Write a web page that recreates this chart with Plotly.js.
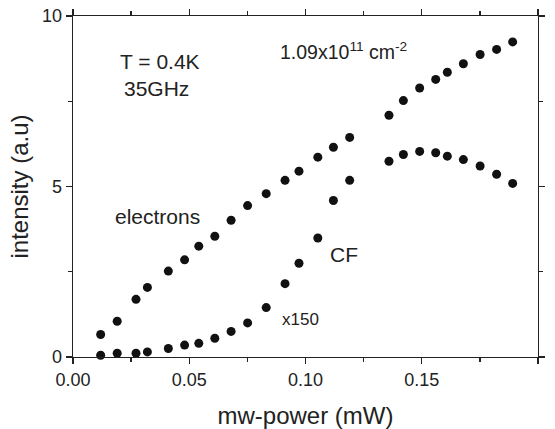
<!DOCTYPE html>
<html>
<head>
<meta charset="utf-8">
<script src="https://cdn.plot.ly/plotly-3.0.1.min.js"></script>
<style>
html,body{margin:0;padding:0;background:#fff;}
#chart{width:555px;height:429px;}
</style>
</head>
<body>
<div id="chart"></div>
<script>
// mw-power (mW)
var power = [0.0119, 0.0190, 0.0271, 0.0320, 0.0410, 0.0480, 0.0541, 0.0610, 0.0680, 0.0751,
             0.0831, 0.0912, 0.0972, 0.1053, 0.1120, 0.1190, 0.1359, 0.1421, 0.1491, 0.1560,
             0.1610, 0.1679, 0.1751, 0.1822, 0.1891];
// electrons intensity (a.u)
var electrons = [0.66, 1.05, 1.69, 2.04, 2.52, 2.85, 3.25, 3.54, 4.01, 4.44,
                 4.79, 5.18, 5.45, 5.86, 6.15, 6.44, 7.09, 7.52, 7.89, 8.14,
                 8.35, 8.60, 8.87, 9.02, 9.24];
// CF intensity (x150)
var cf = [0.05, 0.11, 0.11, 0.15, 0.25, 0.35, 0.40, 0.55, 0.75, 1.00,
          1.45, 2.15, 2.75, 3.49, 4.59, 5.18, 5.74, 5.94, 6.03, 5.99,
          5.89, 5.79, 5.60, 5.36, 5.09];

var xTickVals = [0, 0.05, 0.10, 0.15, 0.20];
var xTickText = ['0.00', '0.05', '0.10', '0.15', '0.20'];
var yTickVals = [0, 5, 10];
var yTickText = ['0', '5', '10'];

var FONT = 'Liberation Sans, Arial, Helvetica, sans-serif';
var INK = '#222';

var traces = [
  {x: power, y: electrons, mode: 'markers', type: 'scatter', name: 'electrons',
   marker: {color: '#111', size: 9}, cliponaxis: false},
  {x: power, y: cf, mode: 'markers', type: 'scatter', name: 'CF',
   marker: {color: '#111', size: 9}, cliponaxis: false}
];

var axisCommon = {
  showgrid: false, zeroline: false, showline: true, linecolor: INK, linewidth: 1.3,
  mirror: 'allticks', ticks: 'outside', ticklen: 6, tickwidth: 1.3, tickcolor: INK,
  tickfont: {family: FONT, size: 18, color: INK}
};

var layout = {
  width: 555, height: 429,
  margin: {l: 73, r: 17, t: 16, b: 72},
  paper_bgcolor: '#fff', plot_bgcolor: '#fff',
  showlegend: false,
  font: {family: FONT, color: INK},
  xaxis: Object.assign({}, axisCommon, {
    range: [0, 0.2], tickmode: 'array', tickvals: xTickVals, ticktext: xTickText,
    minor: {dtick: 0.025, ticks: 'outside', ticklen: 4, tickwidth: 1.3, tickcolor: INK},
    title: {text: 'mw-power (mW)', font: {family: FONT, size: 24, color: INK}, standoff: 22}
  }),
  yaxis: Object.assign({}, axisCommon, {
    range: [0, 10], tickmode: 'array', tickvals: yTickVals, ticktext: yTickText,
    minor: {dtick: 2.5, ticks: 'outside', ticklen: 4, tickwidth: 1.3, tickcolor: INK},
    title: {text: 'intensity (a.u)', font: {family: FONT, size: 24, color: INK}, standoff: 6}
  }),
  annotations: [
    {x: 0.0194, y: 8.68, text: 'T = 0.4K', xanchor: 'left', yanchor: 'middle', showarrow: false,
     font: {family: FONT, size: 21, color: INK}},
    {x: 0.0212, y: 7.87, text: '35GHz', xanchor: 'left', yanchor: 'middle', showarrow: false,
     font: {family: FONT, size: 21, color: INK}},
    {x: 0.0880, y: 8.98, text: '1.09x10<sup>11</sup> cm<sup>-2</sup>', xanchor: 'left', yanchor: 'middle', showarrow: false,
     font: {family: FONT, size: 19.5, color: INK}},
    {x: 0.0173, y: 4.13, text: 'electrons', xanchor: 'left', yanchor: 'middle', showarrow: false,
     font: {family: FONT, size: 21, color: INK}},
    {x: 0.1098, y: 3.0, text: 'CF', xanchor: 'left', yanchor: 'middle', showarrow: false,
     font: {family: FONT, size: 21, color: INK}},
    {x: 0.0890, y: 1.10, text: 'x150', xanchor: 'left', yanchor: 'middle', showarrow: false,
     font: {family: FONT, size: 17, color: INK}}
  ]
};

Plotly.newPlot('chart', traces, layout, {staticPlot: true, displayModeBar: false});
</script>
</body>
</html>
